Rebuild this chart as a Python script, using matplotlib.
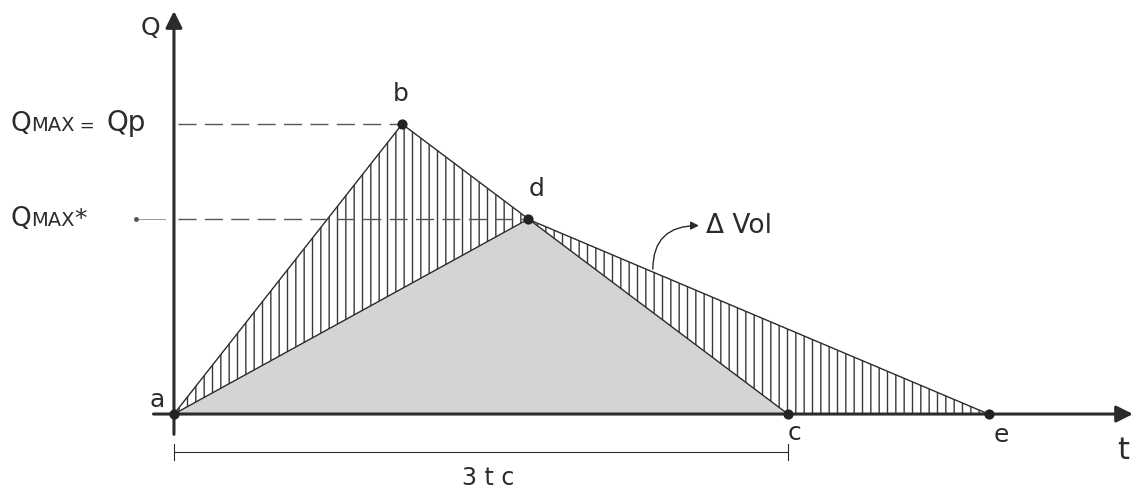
import matplotlib.pyplot as plt

# hydrograph points (t in units of tc, Q normalised to Qp)
t_a, Q_a = 0.0, 0.0
t_b, Q_b = 1.115, 1.0      # peak Qp
t_d, Q_d = 1.73, 0.672     # reduced peak Qmax*
t_c, Q_c = 3.0, 0.0        # end of triangle a-b-c (3 tc)
t_e, Q_e = 3.98, 0.0       # end of attenuated triangle a-d-e

point_t = [t_a, t_b, t_d, t_c, t_e]
point_Q = [Q_a, Q_b, Q_d, Q_c, Q_e]
point_names = ['a', 'b', 'd', 'c', 'e']
name_offsets = [(-12, 10), (-1, 22), (6, 22), (5, -14), (9, -15)]

dark = '#2b2b2b'
plt.rcParams['font.family'] = ['DejaVu Sans']
plt.rcParams['hatch.linewidth'] = 1.0

fig = plt.figure(figsize=(11.33, 4.9), dpi=100)
ax = fig.add_axes([0, 0, 1, 1])
ax.set_xlim(-0.850, 4.686)
ax.set_ylim(-0.262, 1.428)
ax.axis('off')

# grey area under both hydrographs
ax.fill([t_a, t_d, t_c], [Q_a, Q_d, Q_c], color='#d3d4d6', lw=0, zorder=1)
# hatched difference (Delta Vol)
ax.fill([t_a, t_b, t_d], [Q_a, Q_b, Q_d], facecolor='none', edgecolor='#3a3a3a',
        hatch='||', lw=0, zorder=2)
ax.fill([t_d, t_e, t_c], [Q_d, Q_e, Q_c], facecolor='none', edgecolor='#3a3a3a',
        hatch='||', lw=0, zorder=2)

# outlines
ax.plot([t_a, t_b, t_c], [Q_a, Q_b, Q_c], color=dark, lw=1.0, zorder=3)
ax.plot([t_a, t_d, t_e], [Q_a, Q_d, Q_e], color=dark, lw=1.0, zorder=3)

# axes with arrows
ax.annotate('', xy=(0, 1.39), xytext=(0, -0.07),
            arrowprops=dict(arrowstyle='-|>', lw=2.2, color=dark,
                            mutation_scale=25, shrinkA=0, shrinkB=0), zorder=4)
ax.annotate('', xy=(4.686, 0), xytext=(-0.1, 0),
            arrowprops=dict(arrowstyle='-|>', lw=2.2, color=dark,
                            mutation_scale=25, shrinkA=0, shrinkB=0), zorder=4)

# dashed guides
ax.plot([0.02, t_b], [Q_b, Q_b], ls=(0, (13, 6)), lw=1.0, color='#555555', zorder=3)
ax.plot([0.02, t_d], [Q_d, Q_d], ls=(0, (13, 6)), lw=1.0, color='#555555', zorder=3)

# points and names
ax.scatter(point_t, point_Q, s=40, color='#222222', zorder=5)
for t, q, name, off in zip(point_t, point_Q, point_names, name_offsets):
    ax.annotate(name, xy=(t, q), xytext=off, textcoords='offset points',
                ha='center', va='center', fontsize=18, color=dark)

# axis names
ax.annotate('Q', xy=(0, 1.39), xytext=(-17, -12), textcoords='offset points',
            ha='center', va='center', fontsize=18, color=dark)
ax.annotate('t', xy=(4.686, 0), xytext=(-7, -26), textcoords='offset points',
            ha='center', va='center', fontsize=22, color=dark)

# left labels: QMAX = Qp
q1 = ax.annotate('Q', xy=(0, Q_b), xytext=(-118, -9), textcoords='offset points',
                 ha='left', va='bottom', fontsize=19, color=dark)
q2 = ax.annotate('MAX', xy=(1, 0), xycoords=q1, xytext=(0, 1), textcoords='offset points',
                 ha='left', va='bottom', fontsize=14, color=dark)
q3 = ax.annotate(' =  ', xy=(1, 0), xycoords=q2, ha='left', va='bottom',
                 fontsize=13, color=dark)
ax.annotate('Qp', xy=(1, 0), xycoords=q3, xytext=(0, -1), textcoords='offset points',
            ha='left', va='bottom', fontsize=20, color=dark)

# QMAX*
s1 = ax.annotate('Q', xy=(0, Q_d), xytext=(-118, -9), textcoords='offset points',
                 ha='left', va='bottom', fontsize=19, color=dark)
s2 = ax.annotate('MAX', xy=(1, 0), xycoords=s1, xytext=(0, 1), textcoords='offset points',
                 ha='left', va='bottom', fontsize=14, color=dark)
ax.annotate('*', xy=(1, 1), xycoords=s2, xytext=(0, 3), textcoords='offset points',
            ha='left', va='top', fontsize=18, color=dark)
ax.plot([-0.185, -0.045], [Q_d, Q_d], color='#888888', lw=0.6, zorder=3)
ax.plot([-0.185], [Q_d], marker='o', ms=2.5, color='#555555', zorder=3)

# Delta Vol with curved arrow
ax.annotate('', xy=(2.565, 0.65), xytext=(2.34, 0.5),
            arrowprops=dict(arrowstyle='-|>', lw=1.0, color=dark, mutation_scale=12,
                            shrinkA=0, shrinkB=0,
                            connectionstyle='angle3,angleA=90,angleB=0'), zorder=4)
ax.annotate('Δ Vol', xy=(2.6, 0.65), ha='left', va='center', fontsize=19, color=dark)

# 3 tc dimension line
ax.plot([t_a, t_c], [-0.131, -0.131], color=dark, lw=0.8)
ax.plot([t_a, t_a], [-0.105, -0.157], color=dark, lw=0.8)
ax.plot([t_c, t_c], [-0.105, -0.157], color=dark, lw=0.8)
ax.annotate('3 t c', xy=((t_a + t_c) / 2, -0.131), xytext=(5, -19), textcoords='offset points',
            ha='center', va='center', fontsize=17, color=dark)

fig.savefig('out.png', dpi=100)
